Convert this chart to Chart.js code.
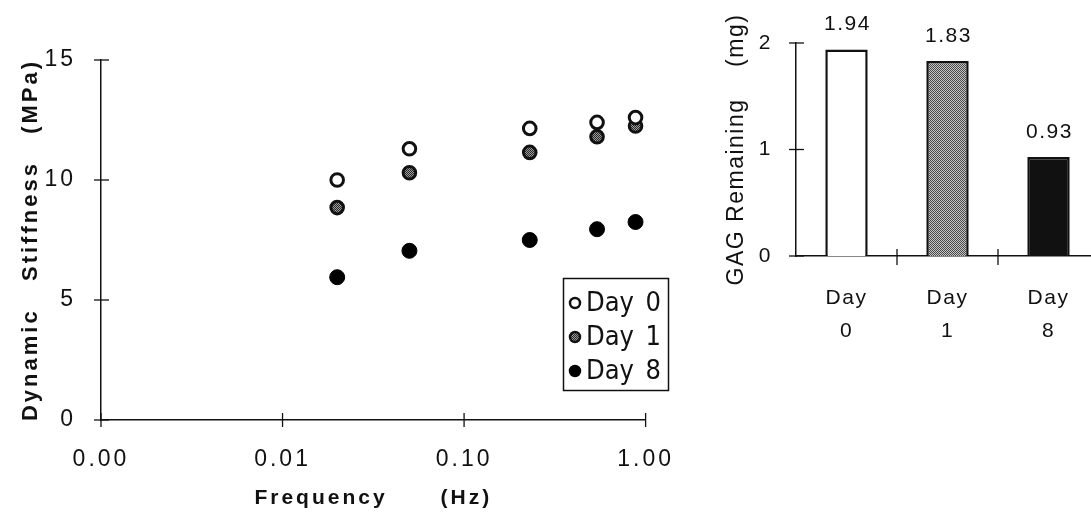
<!DOCTYPE html>
<html>
<head>
<meta charset="utf-8">
<script src="https://cdn.jsdelivr.net/npm/chart.js@4.4.0/dist/chart.umd.min.js"></script>
<style>
  html, body { margin: 0; padding: 0; background: #fff; overflow: hidden; }
  #wrap { position: relative; width: 1091px; height: 521px; overflow: hidden; }
  #left { position: absolute; left: 0; top: 0; width: 700px; height: 521px; }
  #right { position: absolute; left: 700px; top: 0; width: 400px; height: 521px; }
</style>
</head>
<body>
<div id="wrap">
  <div id="left"><canvas id="stiffChart"></canvas></div>
  <div id="right"><canvas id="gagChart"></canvas></div>
</div>
<script>
// left panel: dynamic stiffness vs frequency
const frequencies = [0.02, 0.05, 0.23, 0.54, 0.88];
const day0Stiffness = [10.0, 11.3, 12.15, 12.4, 12.6];
const day1Stiffness = [8.85, 10.3, 11.15, 11.8, 12.25];
const day8Stiffness = [5.95, 7.05, 7.5, 7.95, 8.25];
const seriesNames = ['Day 0', 'Day 1', 'Day 8'];
const freqTicks = [0.001, 0.01, 0.1, 1];
const freqTickLabels = ['0.00', '0.01', '0.10', '1.00'];
const stiffTicks = [0, 5, 10, 15];

// right panel: GAG remaining
const gagDays = ['Day 0', 'Day 1', 'Day 8'];
const gagValues = [1.94, 1.83, 0.93];
const gagTicks = [0, 1, 2];

const FONT = 'Arial, "Liberation Sans", Helvetica, sans-serif';
const INK = '#111';

function stipple(dark, light) {
  const c = document.createElement('canvas');
  c.width = 2; c.height = 2;
  const g = c.getContext('2d');
  g.fillStyle = light; g.fillRect(0, 0, 2, 2);
  g.fillStyle = dark; g.fillRect(0, 0, 1, 1); g.fillRect(1, 1, 1, 1);
  return g.createPattern(c, 'repeat');
}
const barDots = stipple('#4a4a4a', '#c4c4c4');
const markerDots = stipple('#2a2a2a', '#9a9a9a');

const pts = vals => frequencies.map((f, i) => ({x: f, y: vals[i]}));

// wide tracking like the original print
const tracking = {
  id: 'tracking',
  beforeLayout(chart, args, opts) { chart.ctx.letterSpacing = opts.spacing; },
  beforeDraw(chart, args, opts) { chart.ctx.letterSpacing = opts.spacing; }
};

// tick marks that cross the axis lines
const crossTicks = {
  id: 'crossTicks',
  afterDraw(chart, args, opts) {
    const ctx = chart.ctx, x = chart.scales.x, y = chart.scales.y;
    ctx.save();
    ctx.strokeStyle = INK;
    ctx.lineWidth = 1.3;
    const seg = (x1, y1, x2, y2) => { ctx.beginPath(); ctx.moveTo(x1, y1); ctx.lineTo(x2, y2); ctx.stroke(); };
    if (opts.between) {
      for (let i = 0; i < x.ticks.length - 1; i++) {
        const p = (x.getPixelForTick(i) + x.getPixelForTick(i + 1)) / 2;
        seg(p, x.top - 7, p, x.top + 9);
      }
    } else {
      x.ticks.forEach(t => { const p = x.getPixelForValue(t.value); seg(p, x.top - 7, p, x.top + 7); });
    }
    y.ticks.forEach(t => { const p = y.getPixelForValue(t.value); seg(y.right - 7, p, y.right + 8, p); });
    ctx.restore();
  }
};

const boxLegend = {
  id: 'boxLegend',
  afterDraw(chart) {
    const ctx = chart.ctx;
    ctx.save();
    ctx.letterSpacing = '0px';
    ctx.strokeStyle = INK;
    ctx.lineWidth = 1.5;
    ctx.strokeRect(563.5, 278.5, 105, 112);
    const rows = [303, 337, 371];
    chart.data.datasets.forEach((ds, i) => {
      const yy = rows[i];
      ctx.beginPath();
      ctx.arc(575, yy, 5, 0, Math.PI * 2);
      ctx.fillStyle = ds.pointBackgroundColor;
      ctx.fill();
      ctx.lineWidth = 2.5;
      ctx.strokeStyle = ds.pointBorderColor;
      ctx.stroke();
      const parts = ds.label.split(' ');
      ctx.fillStyle = INK;
      ctx.font = '27px "Liberation Sans Narrow", "Arial Narrow", "DejaVu Sans Condensed", sans-serif';
      ctx.textBaseline = 'middle';
      ctx.textAlign = 'left';
      ctx.fillText(parts[0], 586, yy + 1);
      ctx.textAlign = 'right';
      ctx.fillText(parts[1], 661, yy + 1);
    });
    ctx.restore();
  }
};

const barValues = {
  id: 'barValues',
  afterDatasetsDraw(chart) {
    const ctx = chart.ctx;
    const meta = chart.getDatasetMeta(0);
    ctx.save();
    ctx.fillStyle = INK;
    ctx.font = '21px ' + FONT;
    ctx.textAlign = 'center';
    ctx.textBaseline = 'middle';
    meta.data.forEach((bar, i) => {
      ctx.fillText(gagValues[i].toFixed(2), bar.x + 1, bar.y - 25);
    });
    ctx.restore();
  }
};

new Chart(document.getElementById('stiffChart'), {
  type: 'scatter',
  data: {
    datasets: [
      { label: seriesNames[0], data: pts(day0Stiffness), pointRadius: 6.3, pointBorderWidth: 3,
        pointBackgroundColor: '#fff', pointBorderColor: INK },
      { label: seriesNames[1], data: pts(day1Stiffness), pointRadius: 6.3, pointBorderWidth: 3,
        pointBackgroundColor: markerDots, pointBorderColor: INK },
      { label: seriesNames[2], data: pts(day8Stiffness), pointRadius: 7.5, pointBorderWidth: 1,
        pointBackgroundColor: '#000', pointBorderColor: '#000' }
    ]
  },
  options: {
    responsive: true,
    maintainAspectRatio: false,
    animation: false,
    layout: { padding: { top: 60, right: 42, left: 0, bottom: 0 } },
    plugins: {
      legend: { display: false }, tooltip: { enabled: false },
      crossTicks: { between: false }, tracking: { spacing: '3px' }
    },
    scales: {
      x: {
        type: 'logarithmic', min: 0.001, max: 1,
        afterBuildTicks: s => { s.ticks = freqTicks.map(v => ({ value: v })); },
        afterFit: s => { s.height = 101; },
        grid: { display: false, drawTicks: false },
        border: { display: true, color: INK, width: 1.5 },
        ticks: { padding: 26, color: INK, font: { family: FONT, size: 23 }, maxRotation: 0, autoSkip: false,
                 callback: (v, i) => freqTickLabels[i] },
        title: { display: true, text: 'Frequency      (Hz)', color: INK,
                 font: { family: FONT, size: 21, weight: 'bold' }, padding: { top: 0, bottom: 10 } }
      },
      y: {
        min: 0, max: 15,
        afterBuildTicks: s => { s.ticks = stiffTicks.map(v => ({ value: v })); },
        afterFit: s => { s.width = 101; },
        grid: { display: false, drawTicks: false },
        border: { display: true, color: INK, width: 1.5 },
        ticks: { padding: 25, color: INK, font: { family: FONT, size: 23 } },
        title: { display: true, text: 'Dynamic   Stiffness   (MPa)', color: INK,
                 font: { family: FONT, size: 22, weight: 'bold' }, padding: { top: 18, bottom: 0 } }
      }
    }
  },
  plugins: [tracking, crossTicks, boxLegend]
});

new Chart(document.getElementById('gagChart'), {
  type: 'bar',
  data: {
    labels: gagDays.map(d => d.split(' ')),
    datasets: [{
      label: 'GAG',
      data: gagValues,
      backgroundColor: ['#fff', barDots, '#111'],
      borderColor: INK,
      borderWidth: 2.5,
      barPercentage: 0.42,
      categoryPercentage: 1
    }]
  },
  options: {
    responsive: true,
    maintainAspectRatio: false,
    animation: false,
    layout: { padding: { top: 43, right: 1, left: 0, bottom: 0 } },
    plugins: {
      legend: { display: false }, tooltip: { enabled: false },
      crossTicks: { between: true }, tracking: { spacing: '1.5px' }
    },
    scales: {
      x: {
        offset: true,
        afterFit: s => { s.height = 265; },
        grid: { display: false, drawTicks: false },
        border: { display: true, color: INK, width: 1.5 },
        ticks: { padding: 26, color: INK, font: { family: FONT, size: 21, lineHeight: 1.57 }, maxRotation: 0, autoSkip: false }
      },
      y: {
        min: 0, max: 2,
        afterBuildTicks: s => { s.ticks = gagTicks.map(v => ({ value: v })); },
        afterFit: s => { s.width = 96; },
        grid: { display: false, drawTicks: false },
        border: { display: true, color: INK, width: 1.5 },
        ticks: { padding: 24, color: INK, font: { family: FONT, size: 21 } },
        title: { display: true, text: 'GAG Remaining    (mg)', color: INK,
                 font: { family: FONT, size: 23 }, padding: { top: 23, bottom: 0 } }
      }
    }
  },
  plugins: [tracking, crossTicks, barValues]
});
</script>
</body>
</html>
